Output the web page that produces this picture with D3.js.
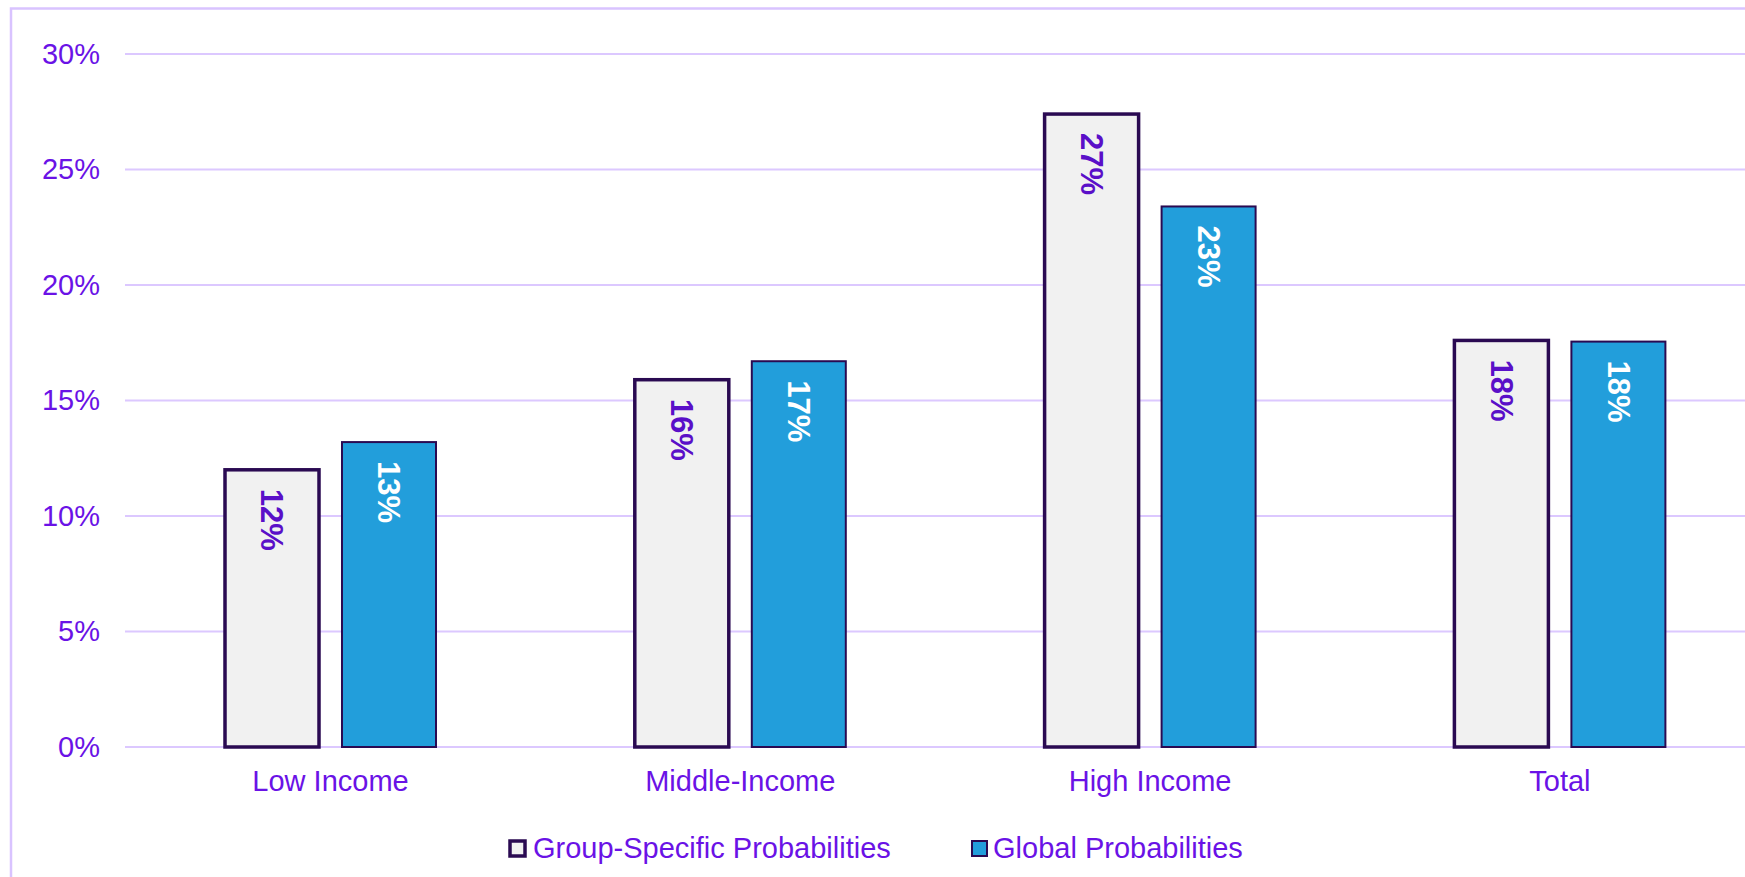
<!DOCTYPE html>
<html>
<head>
<meta charset="utf-8">
<script src="https://cdn.jsdelivr.net/npm/d3@7"></script>
<style>
  html, body { margin: 0; padding: 0; background: #fff; overflow: hidden; }
  text { font-family: "Liberation Sans", Arial, sans-serif; }
</style>
</head>
<body>
<div id="chart"></div>
<script>
// Chart data
var categories = ["Low Income", "Middle-Income", "High Income", "Total"];
var seriesNames = ["Group-Specific Probabilities", "Global Probabilities"];
var groupSpecific = [0.120, 0.159, 0.274, 0.176];
var globalProb = [0.132, 0.167, 0.234, 0.1755];
var groupLabels = ["12%", "16%", "27%", "18%"];
var globalLabels = ["13%", "17%", "23%", "18%"];
var yTicks = [0, 0.05, 0.10, 0.15, 0.20, 0.25, 0.30];

// SVG parameter setup
var svgWidth = 1745;
var svgHeight = 877;

var axisColor = "#6a12e6";
var gridColor = "#dcc8ff";
var barStroke = "#2a0a52";

var svg = d3.select("#chart").append("svg")
    .attr("width", svgWidth)
    .attr("height", svgHeight);

// Outer border (runs off the right and bottom edges)
svg.append("rect")
    .attr("x", 11).attr("y", 8.5)
    .attr("width", svgWidth + 20).attr("height", svgHeight + 20)
    .attr("fill", "none")
    .attr("stroke", "#d9c3ff")
    .attr("stroke-width", 2.5);

// Scales
var x0 = d3.scaleBand()
    .domain(categories)
    .range([125.6, 1764.8])
    .padding(0);

var bw = x0.bandwidth();
var x1 = d3.scaleBand()
    .domain(seriesNames)
    .range([bw / 2 - 105.5, bw / 2 + 105.5])
    .paddingInner(23 / 117)
    .paddingOuter(0);

var y = d3.scaleLinear()
    .domain([0, 0.30])
    .range([747, 54]);

// Gridlines
svg.append("g").selectAll("line")
    .data(yTicks)
    .join("line")
    .attr("x1", 125).attr("x2", svgWidth)
    .attr("y1", d => y(d)).attr("y2", d => y(d))
    .attr("stroke", gridColor)
    .attr("stroke-width", 2);

// y axis labels
var yAxis = d3.axisLeft(y)
    .tickValues(yTicks)
    .tickFormat(d3.format(".0%"))
    .tickSize(0)
    .tickPadding(0);

var yG = svg.append("g")
    .attr("transform", "translate(100,0)")
    .call(yAxis);
yG.select(".domain").remove();
yG.selectAll("text")
    .attr("fill", axisColor)
    .attr("font-size", 29)
    .attr("font-family", "'Liberation Sans', Arial, sans-serif");

// x axis labels
var xAxis = d3.axisBottom(x0).tickSize(0).tickPadding(0);
var xG = svg.append("g")
    .attr("transform", "translate(0,770)")
    .call(xAxis);
xG.select(".domain").remove();
xG.selectAll("text")
    .attr("fill", axisColor)
    .attr("font-size", 29)
    .attr("dy", "0.71em")
    .attr("font-family", "'Liberation Sans', Arial, sans-serif");

// Table built from the arrays
var rows = categories.map((c, i) => ({
    category: c,
    values: [
        { key: seriesNames[0], value: groupSpecific[i], label: groupLabels[i] },
        { key: seriesNames[1], value: globalProb[i], label: globalLabels[i] }
    ]
}));

var fills = { "Group-Specific Probabilities": "#f1f1f1", "Global Probabilities": "#229edb" };
var strokeW = { "Group-Specific Probabilities": 3.5, "Global Probabilities": 2 };
var labelFill = { "Group-Specific Probabilities": "#5a0fc8", "Global Probabilities": "#ffffff" };

var groups = svg.append("g").selectAll("g")
    .data(rows)
    .join("g")
    .attr("transform", d => `translate(${x0(d.category)},0)`);

groups.selectAll("rect")
    .data(d => d.values)
    .join("rect")
    .attr("x", d => x1(d.key))
    .attr("y", d => y(d.value))
    .attr("width", x1.bandwidth())
    .attr("height", d => y(0) - y(d.value))
    .attr("fill", d => fills[d.key])
    .attr("stroke", barStroke)
    .attr("stroke-width", d => strokeW[d.key]);

// Rotated value labels inside the bars
groups.selectAll("text")
    .data(d => d.values)
    .join("text")
    .attr("transform", d => `translate(${x1(d.key) + x1.bandwidth() / 2},${y(d.value) + 19}) rotate(90)`)
    .attr("dy", "0.35em")
    .attr("text-anchor", "start")
    .attr("font-size", 31)
    .attr("font-weight", "bold")
    .attr("fill", d => labelFill[d.key])
    .text(d => d.label);

// Legend
var legendItems = [
    { name: seriesNames[0], x: 510, tx: 533 },
    { name: seriesNames[1], x: 972, tx: 993 }
];
var legend = svg.append("g");
legend.selectAll("rect")
    .data(legendItems)
    .join("rect")
    .attr("x", d => d.x).attr("y", 841)
    .attr("width", 15).attr("height", 15)
    .attr("fill", d => fills[d.name])
    .attr("stroke", barStroke)
    .attr("stroke-width", d => d.name === seriesNames[0] ? 3.5 : 2);
legend.selectAll("text")
    .data(legendItems)
    .join("text")
    .attr("x", d => d.tx).attr("y", 858)
    .attr("font-size", 29)
    .attr("fill", axisColor)
    .text(d => d.name);
</script>
</body>
</html>
